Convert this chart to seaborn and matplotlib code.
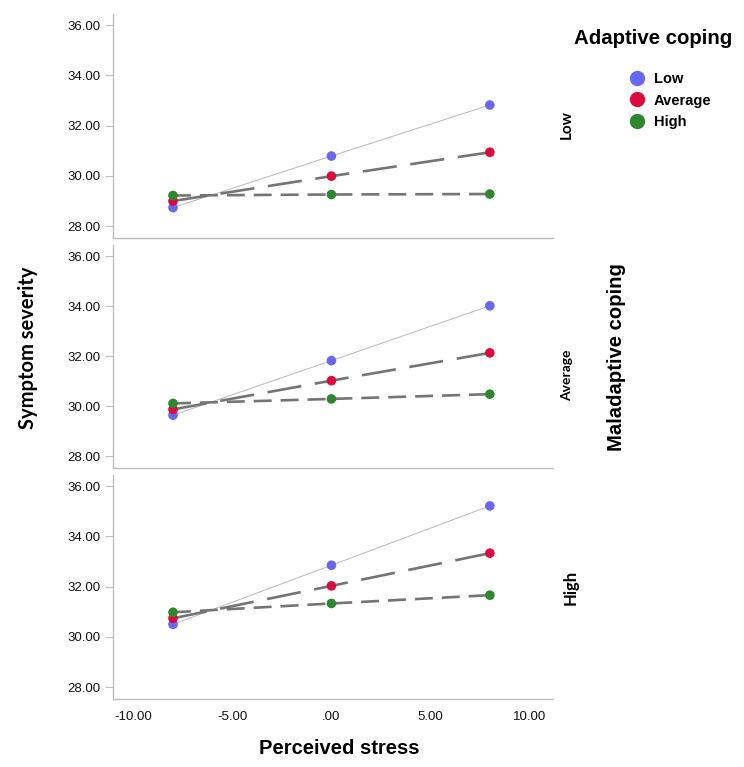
import matplotlib
matplotlib.use("Agg")
import matplotlib.pyplot as plt
from matplotlib.lines import Line2D
import seaborn as sns
import pandas as pd

sns.set_theme(style="white")
plt.rcParams['font.family'] = ['Liberation Sans', 'DejaVu Sans']
plt.rcParams['text.color'] = 'black'

# ---- data ----
stress = [-8.0, 0.0, 8.0]
adaptive_levels = ["Low", "Average", "High"]
maladaptive_levels = ["Low", "Average", "High"]

# maladaptive = Low panel
mal_low_adapt_low = [28.74, 30.79, 32.82]
mal_low_adapt_avg = [29.00, 29.99, 30.94]
mal_low_adapt_high = [29.22, 29.26, 29.28]
# maladaptive = Average panel
mal_avg_adapt_low = [29.64, 31.82, 34.01]
mal_avg_adapt_avg = [29.87, 31.02, 32.13]
mal_avg_adapt_high = [30.11, 30.29, 30.48]
# maladaptive = High panel
mal_high_adapt_low = [30.50, 32.85, 35.21]
mal_high_adapt_avg = [30.74, 32.03, 33.33]
mal_high_adapt_high = [30.98, 31.33, 31.66]

y_ticks = [28, 30, 32, 34, 36]
y_ticklabels = ["28.00", "30.00", "32.00", "34.00", "36.00"]
x_ticks = [-10, -5, 0, 5, 10]
x_ticklabels = ["-10.00", "-5.00", ".00", "5.00", "10.00"]

series = {
    "Low": [mal_low_adapt_low, mal_low_adapt_avg, mal_low_adapt_high],
    "Average": [mal_avg_adapt_low, mal_avg_adapt_avg, mal_avg_adapt_high],
    "High": [mal_high_adapt_low, mal_high_adapt_avg, mal_high_adapt_high],
}
rows = []
for m in maladaptive_levels:
    for a, vals in zip(adaptive_levels, series[m]):
        for x, v in zip(stress, vals):
            rows.append({"maladaptive": m, "adaptive": a, "stress": x, "severity": v})
df = pd.DataFrame(rows)

# ---- styles ----
palette = {"Low": "#6767F2", "Average": "#DC0B3B", "High": "#2E862E"}
line_color = "#747474"
spine_color = "#BDBDBD"
tick_text = "#111111"

fig = plt.figure(figsize=(7.44, 7.67), dpi=100)
W, H = 744, 767
left, right = 113 / W, 553 / W
panel_px = [(14, 238), (245, 468), (475, 699)]
ylims = (27.53, 36.44)
xlims = (-11.03, 11.19)

axes = []
for i, (m, (top, bot)) in enumerate(zip(maladaptive_levels, panel_px)):
    ax = fig.add_axes([left, 1 - bot / H, right - left, (bot - top) / H])
    axes.append(ax)
    sub = df[df["maladaptive"] == m]
    low = sub[sub["adaptive"] == "Low"]
    sns.lineplot(data=low, x="stress", y="severity", color="#B8B8B8",
                 linewidth=0.7, ax=ax, legend=False, errorbar=None, zorder=1)
    other = sub[sub["adaptive"] != "Low"]
    sns.lineplot(data=other, x="stress", y="severity", style="adaptive",
                 size="adaptive", sizes={"Average": 1.9, "High": 1.9},
                 dashes={"Average": (13, 5.2), "High": (6.8, 3.4)},
                 color=line_color, ax=ax, legend=False, errorbar=None, zorder=2)
    sns.scatterplot(data=sub, x="stress", y="severity", hue="adaptive",
                    palette=palette, s=48, edgecolor="none", ax=ax,
                    legend=False, zorder=3)
    ax.set_xlim(*xlims)
    ax.set_ylim(*ylims)
    ax.set_yticks(y_ticks)
    ax.set_yticklabels(y_ticklabels, fontsize=9.5, color=tick_text)
    ax.set_xticks(x_ticks)
    if i == 2:
        ax.set_xticklabels(x_ticklabels, fontsize=9.5, color=tick_text)
        ax.tick_params(axis="x", length=0, pad=9)
    else:
        ax.set_xticklabels([])
        ax.tick_params(axis="x", length=0)
    ax.tick_params(axis="y", length=6, width=0.8, color=spine_color, pad=3, left=True)
    ax.set_xlabel("")
    ax.set_ylabel("")
    for s in ["top", "right"]:
        ax.spines[s].set_visible(False)
    for s in ["left", "bottom"]:
        ax.spines[s].set_color(spine_color)
        ax.spines[s].set_linewidth(1.0)
    ax.grid(False)
    ax.set_facecolor("white")

# row labels
row_font = ["Lato", "DejaVu Sans"]
fig.text(567 / W, 1 - 125 / H, "Low", rotation=90, ha="center", va="center",
         fontsize=11, fontweight="bold", family=row_font, color="black")
fig.text(567 / W, 1 - 375 / H, "Average", rotation=90, ha="center", va="center",
         fontsize=10, fontweight="bold", family=row_font, color="black")
fig.text(571 / W, 1 - 587 / H, "High", rotation=90, ha="center", va="center",
         fontsize=12, fontweight="bold", family=row_font, color="black")

# axis titles
fig.text(617 / W, 1 - 357 / H, "Maladaptive coping", rotation=90, ha="center",
         va="center", fontsize=14.6, fontweight="bold", color="black")
fig.text(28 / W, 1 - 348 / H, "Symptom severity", rotation=90, ha="center",
         va="center", fontsize=14.5, fontweight="bold", family=row_font, color="black")
fig.text(339 / W, 1 - 748 / H, "Perceived stress", ha="center", va="center",
         fontsize=14.5, fontweight="bold", color="black")

# legend
fig.text(653 / W, 1 - 39 / H, "Adaptive coping", ha="center", va="center",
         fontsize=14.7, fontweight="bold", color="black")
handles = [Line2D([0], [0], marker="o", linestyle="none", markersize=11,
                  markerfacecolor=palette[a], markeredgecolor="none", label=a)
           for a in adaptive_levels]
leg = fig.legend(handles=handles, loc="upper left", bbox_to_anchor=(628 / W, 1 - 72 / H),
                 frameon=False, prop={"size": 10.5, "weight": "bold"}, handletextpad=0.55,
                 labelspacing=0.52, borderaxespad=0, borderpad=0, handlelength=1.2)
for t in leg.get_texts():
    t.set_color("black")

fig.savefig("out.png", dpi=100, facecolor="white")
